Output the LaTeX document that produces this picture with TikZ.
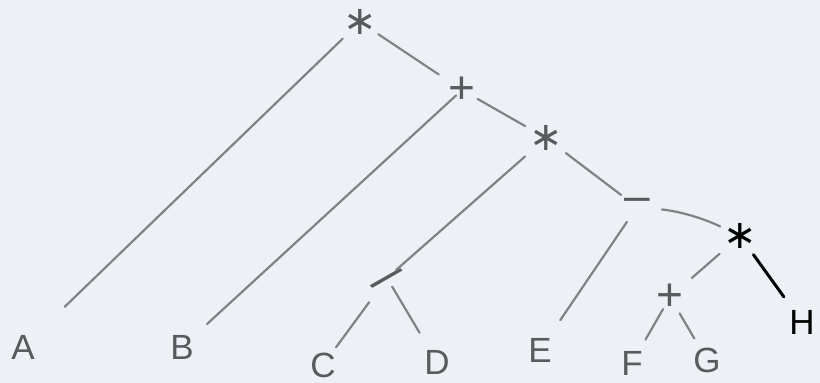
\documentclass[tikz,border=0pt]{standalone}
\usepackage{fontspec}
\setmainfont{Liberation Sans}
\newfontfamily\glyphs{DejaVu Sans}
\usetikzlibrary{positioning}
\definecolor{paper}{RGB}{237,241,246}
\definecolor{pencil}{RGB}{128,130,134}
\definecolor{lead}{RGB}{88,90,94}

\begin{document}
\begin{tikzpicture}[x=1pt,y=1pt,
  op/.style={inner sep=0pt,text=lead,font=\fontsize{46}{46}\selectfont},
  star/.style={op,font=\glyphs\fontsize{40}{40}\selectfont},
  leaf/.style={inner sep=0pt,text=lead,font=\fontsize{35}{35}\selectfont},
  twig/.style={draw=pencil,line width=2.2pt,line cap=round},
  on grid,
]
\path[use as bounding box,fill=paper] (0,0) rectangle (820,-383);

% operators
\node[star] (m1) at (360,-22) {∗};
\node[op,below right=68pt and 102pt of m1] (p1) {+};
\node[star,below right=48pt and 84pt of p1] (m2) {∗};
\node[op,below right=69pt and 91pt of m2]  (s1) {\raisebox{5pt}{–}};
\node[star,below right=29pt and 103pt of s1,text=black] (m3) {∗};
\node[op,below left=140pt and 159pt of m2,rotate=-45] (d1) {/};
\node[op,below left=61pt and 70pt of m3]   (p2) {+};

% operands
\node[leaf,below left=325pt and 337pt of m1] (A) {A};
\node[leaf,below left=257pt and 280pt of p1] (B) {B};
\node[leaf,below left=87pt and 64pt of d1]   (C) {C};
\node[leaf,below right=84pt and 50pt of d1]  (D) {D};
\node[leaf,below left=143pt and 97pt of s1]  (E) {E};
\node[leaf,below left=66pt and 38pt of p2]   (F) {F};
\node[leaf,below right=63pt and 37pt of p2]  (G) {G};
\node[leaf,below right=86pt and 62pt of m3,text=black] (H) {H};

\draw[twig,shorten <=24pt,shorten >=58pt] (m1.center) -- (A.center);
\draw[twig,shorten <=22pt,shorten >=28pt] (m1.center) -- (p1.center);
\draw[twig,shorten <=8pt,shorten >=34pt]  (p1.center) -- (B.center);
\draw[twig,shorten <=18pt,shorten >=24pt] (p1.center) -- (m2.center);
\draw[twig,shorten <=28pt,shorten >=12pt] (m2.center) -- (d1.center);
\draw[twig,shorten <=25pt,shorten >=20pt] (m2.center) -- (s1.center);
\draw[twig,shorten <=30pt,shorten >=22pt] (d1.center) -- (C.center);
\draw[twig,shorten <=10pt,shorten >=34pt] (d1.center) -- (D.center);
\draw[twig,shorten <=18pt,shorten >=36pt] (s1.center) -- (E.center);
\draw[twig,shorten <=25pt,shorten >=22pt] (s1.center) to[bend left=10] (m3.center);
\draw[twig,shorten <=27pt,shorten >=29pt] (m3.center) -- (p2.center);
\draw[twig,draw=black,line width=3pt,shorten <=23pt,shorten >=31pt] (m3.center) -- (H.center);
\draw[twig,shorten <=14pt,shorten >=27pt] (p2.center) -- (F.center);
\draw[twig,shorten <=19pt,shorten >=25pt] (p2.center) -- (G.center);
\end{tikzpicture}
\end{document}
